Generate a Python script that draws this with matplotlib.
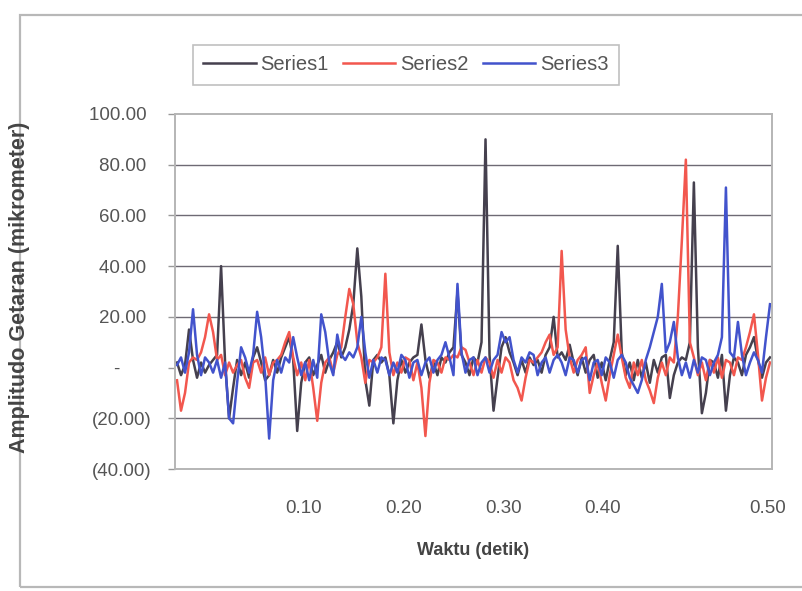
import numpy as np
import matplotlib
matplotlib.use("Agg")
import matplotlib.pyplot as plt
from matplotlib.patches import Rectangle
from matplotlib.ticker import FixedLocator, FuncFormatter

plt.rcParams['font.family'] = ['Liberation Sans', 'DejaVu Sans']

# Vibration amplitude samples (micrometer) for the three measurement series
series1 = [
    2, -3, 1, 15, 3, -4, 2, -2, 1, 3,
    5, 40, 2, -20, -8, 3, -3, 2, -4, 4,
    8, 2, -5, -3, 3, -2, 4, 8, 12, 3,
    -25, -6, 2, 4, -3, 1, 5, -2, 3, 6,
    10, 4, 8, 15, 25, 47, 28, -5, -15, 3,
    5, 2, 4, -3, -22, -5, 3, -2, 2, 4,
    5, 17, 3, -4, 2, -3, 4, 2, 6, 8,
    30, 5, 2, -3, 4, 2, 10, 90, 5, -17,
    -4, 8, 12, 6, 2, -3, 3, -2, 4, 1,
    3, -2, 5, 8, 20, 4, 6, 3, 9, 2,
    -3, 4, -2, 3, 5, -4, 2, -5, 3, 10,
    48, 6, -3, 2, -5, 3, -4, 2, -6, 3,
    -2, 4, 5, -12, -3, 2, 4, 3, 10, 73,
    8, -18, -10, 3, 2, -4, 5, -17, -3, 4,
    2, -3, 5, 8, 12, 3, -4, 2, 4,
]
series2 = [
    -5, -17, -10, 2, 4, 3, 6, 12, 21, 14,
    3, 5, -3, 2, -2, 1, 3, -4, -8, 2,
    3, -2, 4, -3, 2, 3, 5, 10, 14, 4,
    -3, 2, -5, 3, -8, -21, -6, 2, 4, -2,
    5, 8, 20, 31, 25, 10, 4, -6, 3, 2,
    4, 8, 37, 6, -3, 2, -2, 4, 3, -5,
    2, -8, -27, -6, 3, 2, -2, 4, 3, 5,
    4, 8, 7, 2, -3, 3, -2, 4, 2, -4,
    3, -2, 4, 2, -5, -8, -13, -4, 3, 2,
    4, 6, 10, 13, 5, 8, 46, 15, 4, -2,
    3, 5, 8, -10, -3, 2, -6, -13, -3, 5,
    13, 4, -4, -8, 2, -3, 3, -5, -9, -14,
    -4, 2, -3, 4, 2, 20, 50, 82, 10, 4,
    -3, 2, -5, 3, -2, 4, -4, 3, 2, -3,
    4, 3, 8, 14, 21, 5, -13, -4, 2,
]
series3 = [
    1, 4, -2, 6, 23, 5, -3, 4, 2, -2,
    3, -4, 2, -20, -22, -6, 8, 4, -2, 5,
    22, 12, -3, -28, -5, 3, -2, 4, 2, 12,
    4, -3, 2, -5, 3, -4, 21, 14, 2, -3,
    13, 5, 3, 6, 4, 8, 20, 6, -4, 3,
    -2, 4, 3, -3, 2, -2, 5, 3, -4, 2,
    3, -3, 2, 4, -2, 3, 5, 10, 4, -3,
    33, 6, -2, 3, 4, -3, 2, 4, -2, 3,
    5, 14, 10, 12, 3, -2, 4, 2, 6, 5,
    -3, 2, 4, -2, 3, 5, 2, -3, 4, 3,
    -2, 3, 4, -5, 2, 3, -3, 4, 2, -4,
    3, 5, 2, -4, -7, -10, -5, 3, 8, 14,
    20, 33, 6, 10, 18, 4, -3, 2, -4, 3,
    -2, 4, 3, -3, 2, 5, 12, 71, 6, 4,
    18, 5, -3, 2, 6, 3, -2, 12, 25,
]
series_names = ["Series1", "Series2", "Series3"]
time_labels = ["0.10", "0.20", "0.30", "0.40", "0.50"]
y_ticks = [-40, -20, 0, 20, 40, 60, 80, 100]

colors = ["#45404e", "#f2574e", "#4253cc"]

W, H = 802, 591
fig = plt.figure(figsize=(W / 100, H / 100), dpi=100)

# outer chart border
fig.patches.append(Rectangle((20 / W, 4 / H), 1.2, (H - 15) / H - 4 / H,
                             transform=fig.transFigure, fill=False,
                             edgecolor="#b8b8b8", linewidth=1.6))

left, right, top, bottom = 175, 772, 114, 469
ax = fig.add_axes([left / W, 1 - bottom / H, (right - left) / W, (bottom - top) / H])

n = len(series1)
idx = np.arange(n)
for vals, name, c in zip([series1, series2, series3], series_names, colors):
    ax.plot(idx, vals, color=c, lw=1.8, label=name)

ax.set_xlim(-0.5, n - 1 + 0.5)
ax.set_ylim(-40, 100)

ax.yaxis.set_major_locator(FixedLocator(y_ticks))


def accounting(v, pos):
    if abs(v) < 1e-9:
        return "-      "
    if v < 0:
        return "(%.2f)" % abs(v)
    return "%.2f " % v


ax.yaxis.set_major_formatter(FuncFormatter(accounting))
for yv in [20, 40, 60, 80, -20]:
    ax.axhline(yv, color="#6e6a74", lw=1.0, zorder=0)

tick_pos = [31.5, 56.5, 81.5, 106.25, 147.5]
ax.set_xticks(tick_pos)
ax.set_xticklabels(time_labels)
ax.tick_params(axis="x", length=0, pad=22, labelsize=13.5, labelcolor="#555555")
ax.tick_params(axis="y", length=5, width=1, color="#999999", pad=12,
               labelsize=13.5, labelcolor="#555555")

for s in ax.spines.values():
    s.set_color("#b5b5b5")
    s.set_linewidth(1.4)

ax.set_xlabel("Waktu (detik)", fontsize=13, fontweight="bold", color="#444444",
              labelpad=18)
fig.text(20 / W, 1 - 287 / H, "Amplitudo Getaran (mikrometer)", rotation=90,
         ha="center", va="center", fontsize=15.5, fontweight="bold", color="#444444")

leg = fig.legend(loc="center", bbox_to_anchor=(406 / W, 1 - 65 / H), ncol=3,
                 frameon=True, fancybox=False, fontsize=14.5, handlelength=2.6,
                 handletextpad=0.25, columnspacing=0.7, borderpad=0.5,
                 borderaxespad=0)
leg.get_frame().set_edgecolor("#b0b0b0")
leg.get_frame().set_linewidth(1.2)
for t in leg.get_texts():
    t.set_color("#555555")

fig.savefig("out.png", dpi=100)
